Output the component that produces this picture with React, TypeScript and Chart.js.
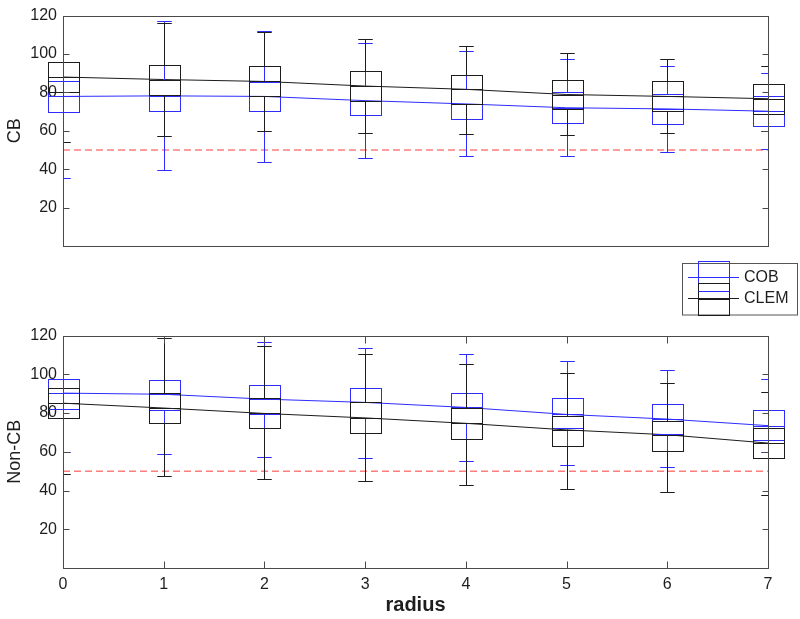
import React, { useEffect, useRef } from 'react';
import { Chart, registerables } from 'chart.js';
Chart.register(...registerables);

// ---- data ----
const radius = [0, 1, 2, 3, 4, 5, 6, 7];
const yTicks = [20, 40, 60, 80, 100, 120];
const xTicks = [0, 1, 2, 3, 4, 5, 6, 7];
const seriesNames = ['COB', 'CLEM'];
const chanceLevel = 50;

// CB panel
const cbCobUpper = [120, 117.0, 111.8, 105.9, 101.5, 97.6, 94.0, 90.2];
const cbCobQ3 = [85.7, 86.4, 85.6, 83.3, 81.8, 80.1, 79.2, 78.0];
const cbCobMedian = [77.9, 78.2, 77.9, 75.7, 74.0, 72.0, 71.4, 70.2];
const cbCobQ1 = [69.8, 70.3, 70.2, 68.1, 66.4, 64.3, 63.8, 62.6];
const cbCobLower = [35.3, 39.5, 44.0, 45.8, 47.0, 47.1, 48.9, 50.5];

const cbClemUpper = [120, 116.1, 111.4, 107.7, 104.2, 100.3, 97.2, 94.0];
const cbClemQ3 = [95.9, 94.3, 93.7, 91.0, 89.1, 86.6, 86.1, 84.4];
const cbClemMedian = [88.0, 86.7, 85.7, 83.3, 81.6, 78.9, 77.9, 76.7];
const cbClemQ1 = [80.1, 78.8, 77.9, 75.5, 73.8, 71.2, 70.3, 69.0];
const cbClemLower = [54.0, 57.5, 59.9, 58.7, 58.3, 57.8, 59.0, 59.7];

// Non-CB panel
const ncCobUpper = [120, 119.8, 116.9, 113.7, 110.6, 106.8, 102.1, 97.4];
const ncCobQ3 = [97.8, 96.9, 94.7, 93.0, 90.6, 87.9, 84.6, 81.5];
const ncCobMedian = [90.3, 89.7, 87.2, 85.5, 82.9, 79.3, 76.9, 73.5];
const ncCobQ1 = [82.2, 81.7, 79.3, 77.6, 74.7, 72.1, 69.1, 66.2];
const ncCobLower = [59.8, 59.0, 57.1, 56.8, 55.0, 53.0, 52.1, 60.0];

const ncClemUpper = [120, 118.8, 114.5, 110.6, 105.5, 100.9, 95.7, 90.9];
const ncClemQ3 = [92.7, 90.6, 87.9, 85.5, 82.4, 78.6, 75.9, 72.1];
const ncClemMedian = [85.1, 82.6, 79.8, 77.5, 74.7, 71.3, 68.8, 64.5];
const ncClemQ1 = [77.3, 74.9, 72.5, 69.9, 66.7, 63.1, 60.2, 56.9];
const ncClemLower = [48.5, 47.3, 46.2, 44.8, 43.1, 41.0, 39.5, 37.8];

// ---- styles ----
const BLUE = 'rgb(45,45,255)';
const BLACK = '#1c1c1c';
const RED = 'rgb(255,60,60)';
const FRAME = '#4a4a4a';
const TEXT = '#1e1e1e';
const FONT = "'Liberation Sans', Arial, Helvetica, sans-serif";
const BOX_HALF = 0.15;
const CAP_HALF = 0.072;

type Stats = { color: string; upper: number[]; q3: number[]; med: number[]; q1: number[]; lower: number[] };

const boxPlugin = (sets: Stats[]) => ({
  id: 'boxes',
  afterDatasetsDraw(chart: any) {
    const { ctx, chartArea: ca, scales } = chart;
    const xs = scales.x, ys = scales.y;
    const px = (v: number) => xs.getPixelForValue(v);
    const py = (v: number) => Math.round(ys.getPixelForValue(v)) + 0.5;
    const hw = px(BOX_HALF) - px(0);
    const cw = px(CAP_HALF) - px(0);
    const line = (x1: number, y1: number, x2: number, y2: number) => {
      ctx.beginPath(); ctx.moveTo(x1, y1); ctx.lineTo(x2, y2); ctx.stroke();
    };
    ctx.save();
    ctx.lineWidth = 1;
    for (const s of sets) {
      ctx.strokeStyle = s.color;
      radius.forEach((r, i) => {
        const cx = Math.round(px(r)) + 0.5;
        const l = Math.round(cx - hw) + 0.5, rr = Math.round(cx + hw) + 0.5;
        const y3 = py(s.q3[i]), y1 = py(s.q1[i]), ym = py(s.med[i]);
        ctx.strokeRect(l, y3, rr - l, y1 - y3);
        line(l, ym, rr, ym);
        ctx.save();
        ctx.beginPath();
        ctx.rect(ca.left, ca.top - 1, ca.right - ca.left, ca.bottom - ca.top + 2);
        ctx.clip();
        const yu = py(s.upper[i]), yl = py(s.lower[i]);
        line(cx, y3, cx, yu);
        line(cx, y1, cx, yl);
        line(cx - cw, yu, cx + cw, yu);
        line(cx - cw, yl, cx + cw, yl);
        ctx.restore();
      });
    }
    ctx.restore();
  },
});

const framePlugin = (showXTicks: boolean) => ({
  id: 'frame',
  afterDatasetsDraw(chart: any) {
    const { ctx, chartArea: ca, scales } = chart;
    const L = Math.round(ca.left) + 0.5, R = Math.round(ca.right) + 0.5;
    const T = Math.round(ca.top) + 0.5, B = Math.round(ca.bottom) + 0.5;
    ctx.save();
    ctx.strokeStyle = FRAME;
    ctx.lineWidth = 1;
    ctx.strokeRect(L, T, R - L, B - T);
    ctx.beginPath();
    yTicks.forEach((v) => {
      const y = Math.round(scales.y.getPixelForValue(v)) + 0.5;
      ctx.moveTo(L, y); ctx.lineTo(L + 6, y);
      ctx.moveTo(R, y); ctx.lineTo(R - 6, y);
    });
    if (showXTicks) {
      xTicks.forEach((v) => {
        const x = Math.round(scales.x.getPixelForValue(v)) + 0.5;
        ctx.moveTo(x, B); ctx.lineTo(x, B - 7);
        ctx.moveTo(x, T); ctx.lineTo(x, T + 7);
      });
    }
    ctx.stroke();
    ctx.restore();
  },
});

const legendPlugin = {
  id: 'boxLegend',
  afterDraw(chart: any) {
    const { ctx } = chart;
    const line = (x1: number, y1: number, x2: number, y2: number) => {
      ctx.beginPath(); ctx.moveTo(x1, y1); ctx.lineTo(x2, y2); ctx.stroke();
    };
    ctx.save();
    ctx.lineWidth = 1;
    ctx.fillStyle = '#ffffff';
    ctx.fillRect(682.5, 263.5, 115, 51.5);
    ctx.strokeStyle = '#555555';
    ctx.strokeRect(682.5, 263.5, 115, 51.5);
    // box icons
    ctx.strokeStyle = BLUE;
    ctx.strokeRect(698.5, 261.5, 31, 30);
    line(698.5, 277.5, 729.5, 277.5);
    ctx.strokeStyle = BLACK;
    ctx.strokeRect(698.5, 283.5, 31, 32);
    line(698.5, 299.5, 729.5, 299.5);
    // line samples
    ctx.strokeStyle = BLUE;
    line(688, 277.5, 739, 277.5);
    line(698.5, 291.5, 729.5, 291.5);
    ctx.strokeStyle = BLACK;
    line(688, 298.5, 739, 298.5);
    ctx.fillStyle = TEXT;
    ctx.font = `16px ${FONT}`;
    ctx.textBaseline = 'middle';
    ctx.textAlign = 'left';
    ctx.fillText(seriesNames[0], 744, 277.5);
    ctx.fillText(seriesNames[1], 744, 299);
    ctx.restore();
  },
};

function makeConfig(cob: Stats, clem: Stats, yTitle: string, bottomPanel: boolean): any {
  const pts = (arr: number[]) => radius.map((r, i) => ({ x: r, y: arr[i] }));
  return {
    type: 'line',
    data: {
      datasets: [
        {
          label: 'chance',
          data: [{ x: radius[0], y: chanceLevel }, { x: radius[radius.length - 1], y: chanceLevel }],
          borderColor: RED, borderWidth: 1, borderDash: [7, 4], pointRadius: 0, order: 3,
        },
        { label: seriesNames[0], data: pts(cob.med), borderColor: BLUE, borderWidth: 1, pointRadius: 0, order: 2 },
        { label: seriesNames[1], data: pts(clem.med), borderColor: BLACK, borderWidth: 1, pointRadius: 0, order: 1 },
      ],
    },
    options: {
      animation: false,
      responsive: false,
      events: [],
      layout: bottomPanel
        ? { padding: { top: 15, right: 32, bottom: 0, left: 0 } }
        : { padding: { top: 12, right: 32, bottom: 74, left: 0 } },
      plugins: { legend: { display: false }, tooltip: { enabled: false } },
      elements: { line: { tension: 0 } },
      scales: {
        x: {
          type: 'linear', min: 0, max: 7,
          display: bottomPanel,
          grid: { display: false, drawTicks: false },
          border: { display: false },
          ticks: { stepSize: 1, padding: 7, color: TEXT, font: { family: FONT, size: 16 } },
          title: {
            display: true, text: 'radius', color: TEXT,
            font: { family: FONT, size: 20, weight: 'bold' },
            padding: { top: 0, bottom: 2 },
          },
          afterFit: (s: any) => { s.height = bottomPanel ? 51 : 0; },
        },
        y: {
          min: 0, max: 120,
          grid: { display: false, drawTicks: false },
          border: { display: false },
          ticks: {
            stepSize: 20, padding: 6, color: TEXT, font: { family: FONT, size: 16 },
            callback: (v: number) => (v === 0 ? '' : String(v)),
          },
          title: {
            display: true, text: yTitle, color: TEXT,
            font: { family: FONT, size: 18 },
            padding: { top: 4, bottom: 0 },
          },
          afterFit: (s: any) => { s.width = 63; },
        },
      },
    },
    plugins: [boxPlugin([cob, clem]), framePlugin(bottomPanel), ...(bottomPanel ? [] : [legendPlugin])],
  };
}

export default function App() {
  const topRef = useRef<HTMLCanvasElement>(null);
  const botRef = useRef<HTMLCanvasElement>(null);

  useEffect(() => {
    const cbCob: Stats = { color: BLUE, upper: cbCobUpper, q3: cbCobQ3, med: cbCobMedian, q1: cbCobQ1, lower: cbCobLower };
    const cbClem: Stats = { color: BLACK, upper: cbClemUpper, q3: cbClemQ3, med: cbClemMedian, q1: cbClemQ1, lower: cbClemLower };
    const ncCob: Stats = { color: BLUE, upper: ncCobUpper, q3: ncCobQ3, med: ncCobMedian, q1: ncCobQ1, lower: ncCobLower };
    const ncClem: Stats = { color: BLACK, upper: ncClemUpper, q3: ncClemQ3, med: ncClemMedian, q1: ncClemQ1, lower: ncClemLower };
    const c1 = new Chart(topRef.current as HTMLCanvasElement, makeConfig(cbCob, cbClem, 'CB', false));
    const c2 = new Chart(botRef.current as HTMLCanvasElement, makeConfig(ncCob, ncClem, 'Non-CB', true));
    return () => { c1.destroy(); c2.destroy(); };
  }, []);

  return (
    <div style={{ position: 'fixed', left: 0, top: 0, width: 800, height: 619, background: '#ffffff' }}>
      <canvas ref={topRef} width={800} height={320}
        style={{ position: 'absolute', left: 0, top: 0, width: 800, height: 320 }} />
      <canvas ref={botRef} width={800} height={299}
        style={{ position: 'absolute', left: 0, top: 320, width: 800, height: 299 }} />
    </div>
  );
}
